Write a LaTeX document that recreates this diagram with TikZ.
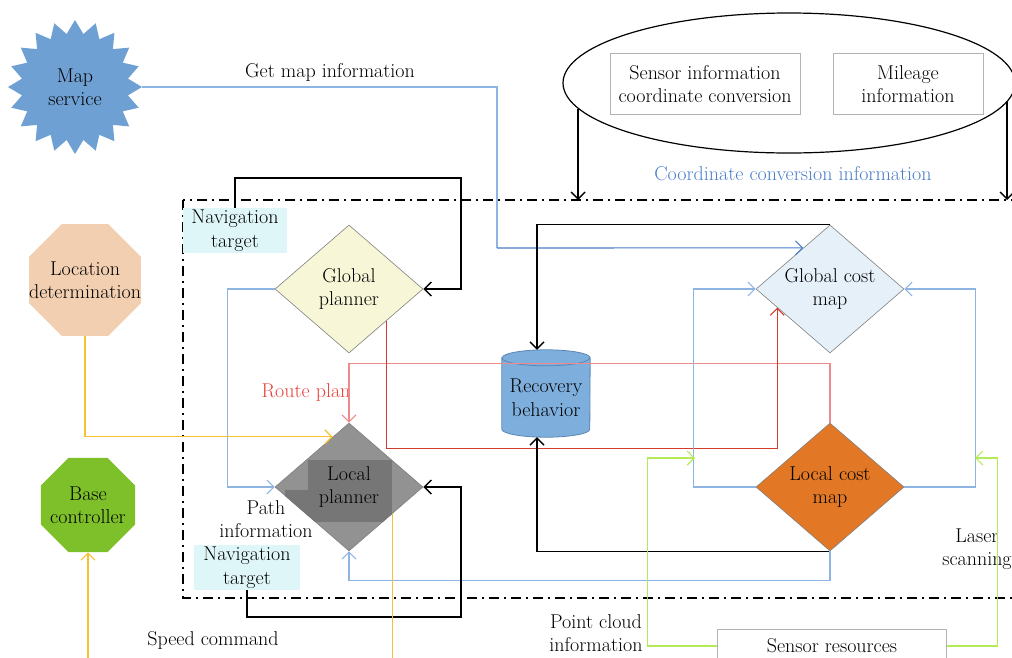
\documentclass[tikz,border=0pt]{standalone}
\usetikzlibrary{shapes.geometric,arrows.meta,calc}
\definecolor{lblue}{HTML}{8DB4E2}
\definecolor{dblue}{HTML}{4A7EC9}
\definecolor{dred}{HTML}{D33B2C}
\definecolor{lred}{HTML}{EE8A8A}
\definecolor{yel}{HTML}{F4C232}
\definecolor{lgreen}{HTML}{B4EA56}
\definecolor{starblue}{HTML}{6FA0D3}
\definecolor{peach}{HTML}{F2CFB0}
\definecolor{bgreen}{HTML}{7EC02A}
\definecolor{cyanbox}{HTML}{DFF6F8}
\definecolor{gpfill}{HTML}{F7F6D7}
\definecolor{gcmfill}{HTML}{E6F0F9}
\definecolor{lpfill}{HTML}{929292}
\definecolor{lpdark}{HTML}{767676}
\definecolor{orangefill}{HTML}{E27826}
\definecolor{cylfill}{HTML}{7DAEDC}
\definecolor{cylline}{HTML}{5B87B5}
\definecolor{routered}{HTML}{E8403A}
\begin{document}
\begin{tikzpicture}[x=1pt,y=-1pt,
 every node/.style={font=\fontsize{20}{23.5}\selectfont},
 dia/.style={diamond, draw=gray, line width=0.6pt, minimum width=148pt, minimum height=128pt, inner sep=0pt},
 oct/.style={regular polygon, regular polygon sides=8, inner sep=0pt},
 conn/.style={line width=1.1pt},
 blk/.style={line width=1.4pt, black},
 arr/.style={-{Straight Barb[length=7pt,width=14pt]}},
 tbox/.style={draw=gray!60, line width=0.8pt, align=center, inner sep=0pt},
 navbox/.style={fill=cyanbox, align=center, inner sep=0pt},
 lbl/.style={align=center}
]
\useasboundingbox (0,0) rectangle (1012,657);
\clip (0,0) rectangle (1012,657);

% frame
\draw[line width=1.2pt, dash pattern=on 10pt off 5pt on 2pt off 5pt] (183,200) rectangle (1040,598);

% nodes
\node[star, star points=20, star point ratio=1.25, minimum size=134pt, inner sep=0pt, fill=starblue,
  label={[lbl]center:Map\\service}] (ms) at (75,87) {};
\node[ellipse, draw, line width=1.2pt, minimum width=452pt, minimum height=140pt, inner sep=0pt] (ell) at (789,83) {};
\node[tbox, minimum width=190pt, minimum height=61pt] (sic) at (705,84) {Sensor information\\coordinate conversion};
\node[tbox, minimum width=150pt, minimum height=61pt] (mil) at (908,84) {Mileage\\information};

\node[navbox, minimum width=104pt, minimum height=45pt] (nt1) at (235,230.5) {Navigation\\target};
\node[navbox, minimum width=106pt, minimum height=45pt] (nt2) at (247,567.5) {Navigation\\target};

\node[oct, fill=peach, minimum size=121pt, label={[lbl]center:Location\\determination}] (ld) at (85,280) {};
\node[oct, fill=bgreen, minimum size=102pt, label={[lbl]center:Base\\controller}] (bc) at (88,505) {};

\node[dia, fill=gpfill, label={[lbl]center:Global\\planner}] (gp) at (349,289) {};
\node[dia, fill=gcmfill, label={[lbl]center:Global cost\\map}] (gcm) at (830,289) {};
\node[dia, fill=lpfill] (lp) at (349,487) {};
\begin{scope}
\clip (lp.north) -- (lp.east) -- (lp.south) -- (lp.west) -- cycle;
\fill[lpdark] (308,460) rectangle (392,522);
\fill[lpdark] (285,490) rectangle (308,522);
\end{scope}
\node[lbl] (lpt) at (lp.center) {Local\\planner};
\node[dia, fill=orangefill, label={[lbl]center:Local cost\\map}] (lcm) at (830,487) {};

% recovery behavior (cylinder)
\node[minimum width=88pt, minimum height=87pt, inner sep=0pt] (rb) at (546,393.5) {};
\path (rb.north west) ++(0,8) coordinate (cyltl)
      (rb.north east) ++(0,8) coordinate (cyltr)
      (rb.south west) ++(0,-8) coordinate (cylbl);
\filldraw[fill=cylfill, draw=cylline, line width=0.8pt]
  (cyltl) -- (cylbl) arc[start angle=180, end angle=0, x radius=44, y radius=8]
  -- (cyltr) arc[start angle=0, end angle=-180, x radius=44, y radius=8] -- cycle;
\draw[cylline, line width=0.8pt] (cyltl) arc[start angle=180, end angle=0, x radius=44, y radius=8];
\node[lbl] (rbt) at ($(rb.center)+(0,4)$) {Recovery\\behavior};

\node[tbox, minimum width=229pt, minimum height=34pt] (sr) at (832,646) {Sensor resources};

% text labels
\node (t1) at (330,72) {Get map information};
\node[text=dblue] (t2) at (793,174) {Coordinate conversion information};
\node[text=routered] (t3) at (306,393) {Route plan};
\node[lbl] (t4) at (266,519) {Path\\information};
\node (t5) at (213,640) {Speed command};
\node[lbl] (t6) at (596,633) {Point cloud\\information};
\node[lbl] (t7) at (977,549) {Laser\\scanning};

% coordinates
\coordinate (ftop) at (0,200);
\coordinate (c1) at (461,178);
\coordinate (c2) at (461,617);
\coordinate (g1) at (695,458);
\coordinate (g2) at (975,458);
\coordinate (mc) at (497,248);

% connectors
\draw[conn, lblue] (ms.east) -| (mc);
\draw[conn, dblue, arr] (mc) -- ($(gcm.west)!0.64!(gcm.north)$);

\draw[blk, arr] (ell.187.5) -- (ell.187.5 |- ftop);
\draw[blk, arr] (ell.355) -- (ell.355 |- ftop);

\draw[blk, arr] (nt1.north) |- (c1) |- (gp.east);
\draw[conn, lblue, arr] (gp.west) -- ++(-47,0) |- (lp.west);
\draw[conn, yel, arr] (ld.south) |- ($(lp.west)!0.78!(lp.north)$);
\draw[conn, lred, arr] (lcm.north) -- ++(0,-59) -| (lp.north);
\draw[conn, dred, arr] ($(gp.east)!0.5!(gp.south)$) -- ++(0,127) -| ($(gcm.west)!0.29!(gcm.south)$);
\draw[blk, arr] (gcm.north) -| ($(rb.north)+(-9,0)$);
\draw[blk, arr] (lcm.south) -| ($(rb.south)+(-9,0)$);
\draw[conn, lblue, arr] (lcm.south) -- ++(0,29) -| (lp.south);
\draw[conn, lblue, arr] (lcm.west) -- ++(-62,0) |- (gcm.west);
\draw[conn, lblue, arr] (lcm.east) -- ++(71,0) |- (gcm.east);
\draw[conn, lgreen, arr] (sr.west) -- ++(-70,0) |- (g1);
\draw[conn, lgreen, arr] (sr.east) -- ++(51,0) |- (g2);
\draw[blk, arr] (nt2.south) |- (c2) |- (lp.east);
\draw[conn, yel, arr] ($(lp.east)!0.42!(lp.south)$) -- ++(0,200) -| (bc.south);
\end{tikzpicture}
\end{document}
